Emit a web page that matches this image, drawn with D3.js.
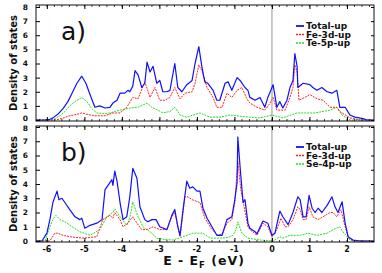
<!DOCTYPE html>
<html>
<head>
<meta charset="utf-8">
<script src="https://cdn.jsdelivr.net/npm/d3@7"></script>
<style>
  body { margin: 0; background: #fff; }
  svg text { font-family: "DejaVu Sans", sans-serif; }
</style>
</head>
<body>
<div id="plot"></div>
<script>
"use strict";

// energy (eV), density of states -- panel a (Fe/Te)
const totalUpA = [[-6.29,0],[-6.05,0],[-5.92,0.05],[-5.84,0.15],[-5.71,0.4],[-5.57,0.8],[-5.44,1.3],[-5.31,2.0],[-5.2,2.6],[-5.07,3.1],[-4.96,2.6],[-4.85,1.8],[-4.72,0.9],[-4.59,1.0],[-4.45,0.85],[-4.32,0.9],[-4.24,1.2],[-4.13,1.4],[-4.05,1.9],[-3.92,1.9],[-3.84,2.1],[-3.79,2.0],[-3.71,2.4],[-3.65,3.5],[-3.57,3.2],[-3.47,2.3],[-3.39,2.6],[-3.33,4.1],[-3.25,3.4],[-3.17,3.8],[-3.07,2.6],[-2.99,2.8],[-2.91,2.0],[-2.8,2.0],[-2.72,2.1],[-2.59,4.0],[-2.51,2.3],[-2.4,2.0],[-2.27,2.5],[-2.13,2.8],[-2.05,4.0],[-1.95,5.2],[-1.87,3.8],[-1.79,2.7],[-1.71,2.6],[-1.57,2.1],[-1.47,1.4],[-1.39,1.4],[-1.25,2.6],[-1.17,2.7],[-1.07,2.1],[-0.93,3.0],[-0.85,2.8],[-0.72,2.3],[-0.64,2.1],[-0.59,1.6],[-0.45,1.4],[-0.32,1.6],[-0.19,0.9],[-0.11,1.6],[0.03,2.5],[0.13,0.9],[0.21,1.3],[0.29,0.85],[0.4,1.4],[0.48,2.3],[0.56,2.8],[0.61,4.7],[0.67,3.8],[0.69,2.3],[0.83,2.6],[1.01,2.5],[1.09,2.3],[1.2,2.1],[1.33,2.3],[1.47,2.0],[1.6,1.9],[1.73,2.1],[1.81,0.9],[1.95,0.9],[2.08,0.35],[2.21,0.2],[2.43,0.1],[2.53,0],[2.72,0]];
const fe3dUpA = [[-6.29,0],[-5.79,0],[-5.6,0.1],[-5.39,0.3],[-5.2,0.4],[-5.07,0.5],[-4.93,0.4],[-4.72,0.3],[-4.45,0.3],[-4.24,0.5],[-4.05,0.5],[-3.87,0.9],[-3.71,1.6],[-3.57,1.5],[-3.39,2.7],[-3.25,1.6],[-3.12,2.3],[-2.99,1.4],[-2.85,1.4],[-2.72,1.6],[-2.59,2.3],[-2.45,1.5],[-2.32,1.9],[-2.13,2.0],[-2.05,2.6],[-1.95,3.9],[-1.87,3.5],[-1.73,2.3],[-1.57,1.6],[-1.47,0.9],[-1.33,0.9],[-1.2,1.9],[-1.07,1.6],[-0.93,2.1],[-0.8,2.3],[-0.67,1.5],[-0.59,1.2],[-0.4,0.9],[-0.19,0.7],[-0.05,1.2],[0.03,1.6],[0.13,0.7],[0.35,0.7],[0.48,1.6],[0.56,2.3],[0.61,3.9],[0.67,3.4],[0.72,1.4],[0.88,1.6],[1.01,1.8],[1.2,1.5],[1.36,1.4],[1.55,0.9],[1.73,0.9],[1.81,0.6],[2.08,0.15],[2.35,0],[2.72,0]];
const te5pUpA = [[-6.29,0],[-5.92,0],[-5.79,0.1],[-5.65,0.3],[-5.52,0.6],[-5.39,1.0],[-5.25,1.3],[-5.07,1.6],[-4.93,1.3],[-4.8,0.8],[-4.67,0.5],[-4.45,0.45],[-4.32,0.5],[-4.19,0.6],[-4.05,0.7],[-3.79,0.85],[-3.57,0.9],[-3.33,1.2],[-3.2,0.9],[-3.04,0.7],[-2.91,0.5],[-2.72,0.6],[-2.59,0.9],[-2.45,0.35],[-2.27,0.2],[-1.92,0.5],[-1.65,0.2],[-1.39,0.2],[-1.12,0.35],[-0.59,0.2],[-0.32,0.15],[0,0.35],[0.29,0.15],[0.67,0.5],[1.15,0.5],[1.55,0.7],[1.73,0.9],[1.87,0.35],[2.08,0],[2.72,0]];

// panel b (Fe/Se)
const totalUpB = [[-6.29,0],[-6.13,0],[-6.0,0.55],[-5.92,1.5],[-5.84,2.7],[-5.73,3.5],[-5.68,2.9],[-5.6,3.0],[-5.52,2.7],[-5.39,2.2],[-5.25,1.7],[-5.12,1.5],[-5.07,1.6],[-4.99,0.9],[-4.85,1.1],[-4.67,1.25],[-4.53,1.5],[-4.45,3.6],[-4.37,3.9],[-4.27,4.3],[-4.24,3.9],[-4.19,4.9],[-4.13,4.2],[-4.05,2.7],[-3.97,1.5],[-3.87,1.7],[-3.79,3.1],[-3.71,5.1],[-3.6,4.4],[-3.52,2.4],[-3.39,1.5],[-3.31,1.35],[-3.2,1.5],[-3.09,1.5],[-2.99,1.0],[-2.8,0.8],[-2.67,1.8],[-2.59,2.2],[-2.51,1.0],[-2.45,0.4],[-2.37,2.2],[-2.27,4.2],[-2.19,3.7],[-2.11,3.8],[-2.0,3.5],[-1.92,3.5],[-1.84,2.3],[-1.73,1.6],[-1.6,1.0],[-1.47,0.4],[-1.33,0.4],[-1.2,1.5],[-1.07,1.7],[-0.99,2.9],[-0.93,4.1],[-0.91,7.3],[-0.85,5.2],[-0.77,2.7],[-0.72,2.9],[-0.64,1.25],[-0.59,0.9],[-0.45,0.65],[-0.4,0.5],[-0.24,1.4],[-0.11,1.25],[0,0.4],[0.08,0.55],[0.21,2.1],[0.29,1.7],[0.43,1.15],[0.56,2.0],[0.69,3.1],[0.75,2.9],[0.83,1.7],[0.91,1.7],[0.99,3.2],[1.07,2.3],[1.15,2.0],[1.23,2.3],[1.33,2.0],[1.47,2.5],[1.6,3.1],[1.68,2.4],[1.76,2.0],[1.87,2.75],[1.95,1.25],[2.03,0.3],[2.16,0.07],[2.35,0],[2.72,0]];
const fe3dUpB = [[-6.29,0],[-5.92,0],[-5.79,0.55],[-5.71,0.55],[-5.57,0.4],[-5.39,0.3],[-5.04,0.2],[-4.67,0.3],[-4.51,1.5],[-4.32,1.8],[-4.24,1.6],[-4.19,2.0],[-4.05,1.5],[-3.97,1.0],[-3.84,1.25],[-3.71,1.7],[-3.6,1.25],[-3.47,0.8],[-3.33,0.8],[-3.17,1.0],[-2.99,0.8],[-2.8,0.8],[-2.67,1.7],[-2.59,2.0],[-2.45,0.3],[-2.32,3.1],[-2.24,3.1],[-2.13,2.9],[-1.92,2.7],[-1.79,1.6],[-1.6,0.8],[-1.44,0.4],[-1.33,0.5],[-1.2,1.25],[-1.07,1.5],[-0.99,2.7],[-0.91,5.6],[-0.83,3.6],[-0.75,2.5],[-0.64,1.0],[-0.59,0.8],[-0.4,0.4],[-0.24,1.25],[-0.11,1.0],[0,0.3],[0.13,0.8],[0.24,1.6],[0.35,1.0],[0.43,1.0],[0.56,1.5],[0.69,2.4],[0.75,2.2],[0.83,1.5],[0.91,1.5],[0.99,2.4],[1.09,1.7],[1.23,1.5],[1.36,1.7],[1.55,2.0],[1.63,2.0],[1.73,1.7],[1.84,2.2],[1.95,1.0],[2.03,0.3],[2.16,0],[2.72,0]];
const se4pUpB = [[-6.29,0],[-6.05,0],[-5.92,1.0],[-5.84,1.5],[-5.76,1.8],[-5.65,1.5],[-5.52,1.35],[-5.33,1.0],[-5.12,0.65],[-4.85,0.4],[-4.59,0.8],[-4.4,1.7],[-4.24,2.0],[-4.19,2.25],[-4.05,1.7],[-3.87,1.1],[-3.79,1.6],[-3.71,2.75],[-3.57,1.7],[-3.44,1.0],[-3.25,0.65],[-3.07,0.2],[-2.85,0.1],[-2.64,0.07],[-2.37,0.3],[-2.11,0.55],[-1.84,0.55],[-1.65,0.2],[-1.39,0.2],[-1.17,0.25],[-1.04,0.4],[-0.96,0.8],[-0.91,1.35],[-0.8,0.55],[-0.64,0.2],[-0.32,0.07],[0.03,0],[0.21,0.3],[0.29,0.2],[0.48,0.4],[0.75,0.4],[0.96,0.55],[1.2,0.4],[1.47,0.55],[1.63,0.8],[1.81,1.0],[1.89,0.65],[2.08,0.07],[2.21,0],[2.72,0]];

const panels = [
    {label: "a)", top: 5, bottom: 121, zero: 120, eight: 7,
     series: [
        {name: "Total-up", data: totalUpA, color: "#1010ff", dash: null, width: 1.2},
        {name: "Fe-3d-up", data: fe3dUpA, color: "#ff2020", dash: "2,1", width: 1},
        {name: "Te-5p-up", data: te5pUpA, color: "#22e022", dash: "2,1", width: 1}
     ]},
    {label: "b)", top: 126, bottom: 242, zero: 241, eight: 127,
     series: [
        {name: "Total-up", data: totalUpB, color: "#1010ff", dash: null, width: 1.2},
        {name: "Fe-3d-up", data: fe3dUpB, color: "#ff2020", dash: "2,1", width: 1},
        {name: "Se-4p-up", data: se4pUpB, color: "#22e022", dash: "2,1", width: 1}
     ]}
];

const yTicks = [0, 1, 2, 3, 4, 5, 6, 7, 8];
const xTicks = [-6, -5, -4, -3, -2, -1, 0, 1, 2];

const msm = {width: 382, height: 273, left: 36, right: 374};

const svg = d3.select("#plot").append("svg")
    .attr("width", msm.width)
    .attr("height", msm.height);

const xScale = d3.scaleLinear().domain([-6.29, 2.72]).range([msm.left, msm.right]);
const minorX = d3.range(-6.2, 2.71, 0.2).map(v => Math.round(v * 10) / 10);

panels.forEach((p, pi) => {
    const yScale = d3.scaleLinear().domain([0, 8]).range([p.zero, p.eight]);
    const g = svg.append("g");

    // clip so lines stay in the frame
    const clipId = "clip" + pi;
    svg.append("clipPath").attr("id", clipId)
        .append("rect")
        .attr("x", msm.left).attr("y", p.top)
        .attr("width", msm.right - msm.left).attr("height", p.bottom - p.top);

    // fermi level
    g.append("line")
        .attr("x1", xScale(0)).attr("x2", xScale(0))
        .attr("y1", p.top).attr("y2", p.bottom)
        .attr("stroke", "#8a8a8a").attr("stroke-width", 0.9);

    // curves
    const line = d3.line()
        .x(d => xScale(d[0]))
        .y(d => yScale(d[1]));
    const curves = g.append("g").attr("clip-path", "url(#" + clipId + ")");
    p.series.slice().reverse().forEach(s => {
        curves.append("path")
            .datum(s.data)
            .attr("d", line)
            .attr("fill", "none")
            .attr("stroke", s.color)
            .attr("stroke-width", s.width)
            .attr("stroke-dasharray", s.dash)
            .attr("stroke-linejoin", "round");
    });

    // frame
    g.append("rect")
        .attr("x", msm.left).attr("y", p.top)
        .attr("width", msm.right - msm.left).attr("height", p.bottom - p.top)
        .attr("fill", "none").attr("stroke", "#111").attr("stroke-width", 1);

    // y ticks (left major, right too), inward
    const yAxis = d3.axisLeft(yScale).tickValues(yTicks).tickSize(-4).tickPadding(8)
        .tickFormat(d3.format("d"));
    const ya = g.append("g").attr("transform", "translate(" + msm.left + ",0)").call(yAxis);
    ya.select(".domain").remove();
    ya.selectAll("text").attr("font-size", 7.5).attr("font-weight", "bold")
        .attr("font-family", "DejaVu Sans").attr("fill", "#111");
    // the 0 of a and the 8 of b sit close together: nudge them apart
    ya.selectAll("text")
        .attr("y", d => (pi === 0 && d === 0) ? -1.5 : (pi === 1 && d === 8) ? 1.5 : 0);
    const yr = g.append("g").attr("transform", "translate(" + msm.right + ",0)")
        .call(d3.axisRight(yScale).tickValues(yTicks).tickSize(-3).tickFormat(""));
    yr.select(".domain").remove();

    // x ticks top and bottom, inward
    [p.top, p.bottom].forEach((yy, k) => {
        const dir = k === 0 ? 1 : -1;
        const ax = g.append("g").attr("transform", "translate(0," + yy + ")");
        const ticks = k === 0 ? d3.axisTop(xScale) : d3.axisBottom(xScale);
        ax.call(ticks.tickValues(xTicks).tickSize(-4).tickFormat(""));
        ax.select(".domain").remove();
        ax.selectAll(".minor").data(minorX).enter().append("line")
            .attr("x1", d => xScale(d)).attr("x2", d => xScale(d))
            .attr("y1", 0).attr("y2", dir * 2)
            .attr("stroke", "#111").attr("stroke-width", 0.8);
    });

    // panel label
    g.append("text")
        .attr("x", 61).attr("y", p.zero - 80)
        .attr("font-size", 25).attr("font-family", "DejaVu Sans")
        .attr("fill", "#111")
        .text(p.label);

    // legend
    p.series.forEach((s, i) => {
        const ly = p.top + 21 + i * 8.5;
        g.append("line")
            .attr("x1", 296).attr("x2", 304)
            .attr("y1", ly).attr("y2", ly)
            .attr("stroke", s.color).attr("stroke-width", s.width + 0.6)
            .attr("stroke-dasharray", s.dash);
        g.append("text")
            .attr("x", 306).attr("y", ly + 3)
            .attr("font-size", 9).attr("font-weight", "bold")
            .attr("font-family", "DejaVu Sans").attr("fill", "#111")
            .text(s.name);
    });

    // y label
    g.append("text")
        .attr("transform", "translate(17," + ((p.top + p.bottom) / 2) + ") rotate(-90)")
        .attr("text-anchor", "middle")
        .attr("font-size", 10).attr("font-weight", "bold")
        .attr("font-family", "Liberation Sans").attr("fill", "#111")
        .text("Density of states");

    // x tick labels only under b
    if (pi === 1) {
        g.append("g").selectAll("text").data(xTicks).enter().append("text")
            .attr("x", d => xScale(d)).attr("y", p.bottom + 9.5)
            .attr("text-anchor", "middle")
            .attr("font-size", 8).attr("font-weight", "bold")
            .attr("font-family", "DejaVu Sans").attr("fill", "#111")
            .text(d => d);
    }
});

// x axis title
const xt = svg.append("text")
    .attr("x", 204).attr("y", 265)
    .attr("text-anchor", "middle")
    .attr("font-size", 12.5).attr("font-weight", "bold")
    .attr("font-family", "DejaVu Sans").attr("fill", "#111")
    .style("letter-spacing", "1px");
xt.append("tspan").text("E - E");
xt.append("tspan").attr("font-size", 8.5).attr("dy", 3).text("F");
xt.append("tspan").attr("dy", -3).text(" (eV)");
</script>
</body>
</html>
